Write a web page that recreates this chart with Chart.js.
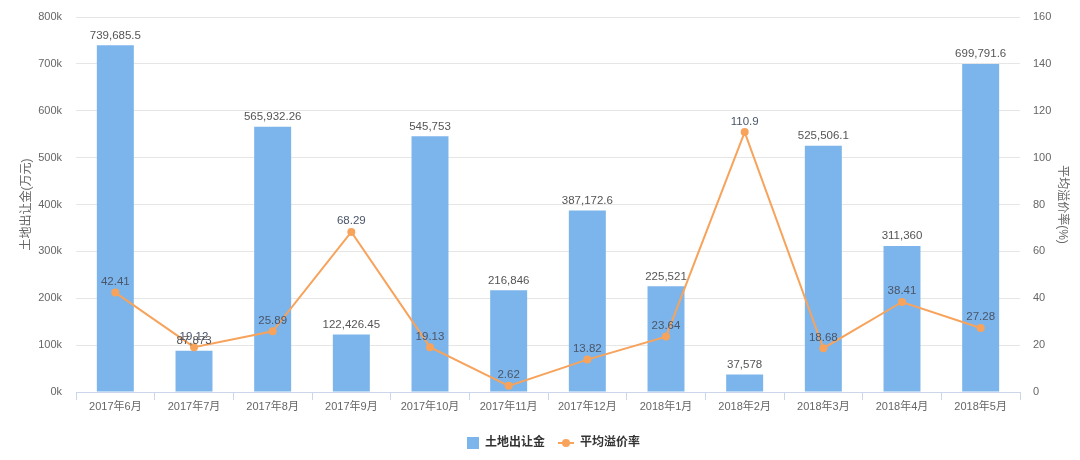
<!DOCTYPE html>
<html>
<head>
<meta charset="utf-8">
<script src="https://cdn.jsdelivr.net/npm/chart.js@4/dist/chart.umd.min.js"></script>
<style>
  html, body { margin: 0; padding: 0; background: #fff; }
  #wrap { width: 1080px; height: 460px; }
</style>
</head>
<body>
<div id="wrap"><canvas id="c"></canvas></div>
<script>
// 月份
const months = ["2017年6月","2017年7月","2017年8月","2017年9月","2017年10月","2017年11月",
  "2017年12月","2018年1月","2018年2月","2018年3月","2018年4月","2018年5月"];
// 土地出让金(万元)
const landFees = [739685.5, 87873, 565932.26, 122426.45, 545753, 216846,
  387172.6, 225521, 37578, 525506.1, 311360, 699791.6];
// 平均溢价率(%)
const premiumRates = [42.41, 19.12, 25.89, 68.29, 19.13, 2.62,
  13.82, 23.64, 110.9, 18.68, 38.41, 27.28];

const FONT = '"Liberation Sans", "Noto Sans CJK SC", sans-serif';
const BAR = "#7cb5ec";
const LINE = "#f7a35c";

function fmtNum(v) {
  return v.toLocaleString("en-US", { maximumFractionDigits: 2 });
}

// 数据标签
const valueLabels = {
  id: "valueLabels",
  afterDatasetsDraw(chart) {
    const ctx = chart.ctx;
    ctx.save();
    ctx.font = "11.5px " + FONT;
    ctx.textAlign = "center";
    ctx.textBaseline = "bottom";
    chart.data.datasets.forEach((ds, i) => {
      const meta = chart.getDatasetMeta(i);
      meta.data.forEach((el, j) => {
        const isBar = ds.type === "bar";
        const txt = isBar ? fmtNum(ds.data[j]) : String(ds.data[j]);
        ctx.fillStyle = isBar ? "#555" : "#4a5568";
        ctx.fillText(txt, el.x, el.y - (isBar ? 4 : 5));
      });
    });
    ctx.restore();
  }
};

// 底部图例（柱 + 折线）
const bottomLegend = {
  id: "bottomLegend",
  afterDraw(chart) {
    const ctx = chart.ctx;
    const y = 443;
    ctx.save();
    ctx.font = "bold 12px " + FONT;
    ctx.textBaseline = "middle";
    ctx.textAlign = "left";
    // 土地出让金
    ctx.fillStyle = BAR;
    ctx.fillRect(467, y - 6, 12, 12);
    ctx.fillStyle = "#333";
    ctx.fillText("土地出让金", 485, y);
    // 平均溢价率
    ctx.strokeStyle = LINE;
    ctx.lineWidth = 2;
    ctx.beginPath(); ctx.moveTo(558, y); ctx.lineTo(574, y); ctx.stroke();
    ctx.fillStyle = LINE;
    ctx.beginPath(); ctx.arc(566, y, 4, 0, Math.PI * 2); ctx.fill();
    ctx.fillStyle = "#333";
    ctx.fillText("平均溢价率", 580, y);
    ctx.restore();
  }
};

function fixY(s, w) {
  s.width = w;
  s.paddingTop = 0;
  s.paddingBottom = 0;
}

new Chart(document.getElementById("c"), {
  data: {
    labels: months,
    datasets: [
      {
        type: "line",
        label: "平均溢价率",
        data: premiumRates,
        yAxisID: "y1",
        borderColor: LINE,
        backgroundColor: LINE,
        borderWidth: 2,
        pointRadius: 4,
        pointBackgroundColor: LINE,
        pointBorderWidth: 0,
        tension: 0,
        order: 0
      },
      {
        type: "bar",
        label: "土地出让金",
        data: landFees,
        yAxisID: "y",
        backgroundColor: BAR,
        categoryPercentage: 1,
        barPercentage: 0.47,
        order: 1
      }
    ]
  },
  options: {
    responsive: true,
    maintainAspectRatio: false,
    animation: false,
    layout: { padding: { top: 17, left: 0, right: 0, bottom: 38 } },
    plugins: {
      tooltip: { enabled: false },
      legend: { display: false }
    },
    scales: {
      x: {
        offset: true,
        grid: { offset: true, drawOnChartArea: false, color: "#ccd6eb", tickLength: 8 },
        border: { color: "#ccd6eb" },
        ticks: { color: "#666", font: { family: FONT, size: 11 }, maxRotation: 0, padding: 0 },
        afterFit(s) { s.height = 30; }
      },
      y: {
        position: "left",
        min: 0, max: 800000,
        ticks: {
          stepSize: 100000,
          color: "#666",
          padding: 14,
          font: { family: FONT, size: 11 },
          callback: v => (v / 1000) + "k"
        },
        grid: { color: "#e6e6e6", drawTicks: false },
        border: { display: false },
        title: { display: true, text: "土地出让金(万元)", color: "#666", font: { family: FONT, size: 12 }, padding: { top: 19, bottom: 0 } },
        afterFit(s) { fixY(s, 76); }
      },
      y1: {
        position: "right",
        min: 0, max: 160,
        ticks: {
          stepSize: 20,
          color: "#666",
          padding: 13,
          font: { family: FONT, size: 11 }
        },
        grid: { drawOnChartArea: false, drawTicks: false },
        border: { display: false },
        title: { display: true, text: "平均溢价率(%)", color: "#666", font: { family: FONT, size: 12 }, padding: { top: 10, bottom: 0 } },
        afterFit(s) { fixY(s, 60); }
      }
    }
  },
  plugins: [valueLabels, bottomLegend]
});
</script>
</body>
</html>
